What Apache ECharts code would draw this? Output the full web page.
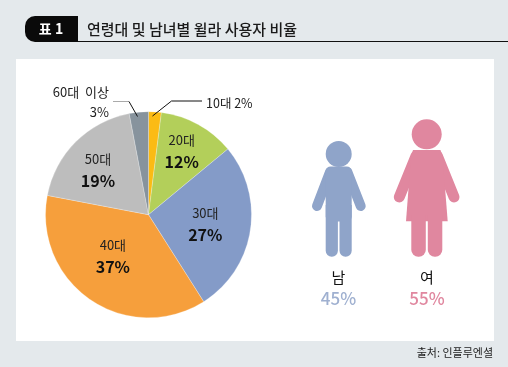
<!DOCTYPE html>
<html><head><meta charset="utf-8">
<style>html,body{margin:0;padding:0;background:#e4e9ec}#c{width:508px;height:367px}</style>
<script src="https://cdn.jsdelivr.net/npm/echarts@6/dist/echarts.min.js"></script>
</head><body><div id="c"></div>
<script>
const categories = ['10대','20대','30대','40대','50대','60대 이상'];
const shares = [2,12,27,37,19,3];
const genders = ['남','여'];
const genderShares = [45,55];
const titleBadge = '표 1';
const titleText = '연령대 및 남녀별 윌라 사용자 비율';
const sourceText = '출처: 인플루엔셜';

const colors = ['#fbbb14','#b3cf5a','#849bc8','#f69f3c','#bdbdbd','#87939d'];
const offsets = [null,[7,-16],[3,1],[-5,-4],[-12,-6],null];
const KO = '"Noto Sans CJK KR",sans-serif';
const MAN = '#8fa4c9', WOMAN = '#e0879f';

const chart = echarts.init(document.getElementById('c'), null, {renderer:'canvas'});
const txt = (x,y,text,size,fill,align,weight) => ({type:'text',x,y,silent:true,zlevel:2,
  style:{text,fontSize:size,fill,align:align||'center',verticalAlign:'middle',fontFamily:KO,fontWeight:weight||'normal'}});
const line = (pts,stroke) => ({type:'polyline',zlevel:2,silent:true,shape:{points:pts},style:{stroke,lineWidth:1,fill:null}});
const limb = (x1,y1,x2,y2,w,c) => ({type:'line',silent:true,zlevel:2,shape:{x1,y1,x2,y2},style:{stroke:c,lineWidth:w,lineCap:'round'}});
const rect = (x,y,width,height,r,c,zl) => ({type:'rect',silent:true,zlevel:zl===undefined?2:zl,shape:{x,y,width,height,r},style:{fill:c}});
const circle = (cx,cy,r,c) => ({type:'circle',silent:true,zlevel:2,shape:{cx,cy,r},style:{fill:c}});

const graphics = [
  rect(16,59,478,282,0,'#ffffff',0),
  rect(25,16,53,26,[10,0,0,10],'#0a0a0a',0),
  {type:'line',silent:true,zlevel:0,shape:{x1:78,y1:41.5,x2:508,y2:41.5},style:{stroke:'#111',lineWidth:1}},
  txt(51,29,titleBadge,14,'#fff','center','bold'),
  txt(87,29,titleText,15,'#1a1a1a','left',500),
  txt(493,353,sourceText,11,'#222','right'),
  // leader lines and outer labels
  line([[152.5,116],[171.5,101],[202,101]],'#111'),
  line([[113,101.5],[129,101.5]],'#aaa'),
  line([[129,101.5],[137.5,116.5]],'#111'),
  txt(206,103,categories[0]+' '+shares[0]+'%',12.5,'#222','left'),
  txt(109,92,categories[5].replace(' ','  '),13,'#222','right'),
  txt(109,112,shares[5]+'%',13,'#222','right'),
  // man
  circle(338.7,154,13,MAN),
  limb(330,172,317,206,10,MAN), limb(347.4,172,360.7,206,10,MAN),
  rect(325.7,166.5,26,55,5,MAN),
  rect(325.7,205,12.2,51.7,[0,0,6,6],MAN),
  rect(339.5,205,12.2,51.7,[0,0,6,6],MAN),
  // woman
  circle(426.7,134.3,15,WOMAN),
  limb(416,156,399.3,197,11,WOMAN), limb(437.4,156,454,197,11,WOMAN),
  {type:'polygon',silent:true,zlevel:2,shape:{points:[[413,150],[440.5,150],[442.5,156],[447.7,221.3],[406,221.3],[411,156]]},style:{fill:WOMAN}},
  rect(411.3,215,14.5,41.7,[0,0,7,7],WOMAN),
  rect(427.8,215,14.5,41.7,[0,0,7,7],WOMAN),
  // gender labels
  txt(338.5,277,genders[0],15,'#111'),
  txt(338.5,299,genderShares[0]+'%',17,'#9fb0d0','center',500),
  txt(427,277,genders[1],15,'#111'),
  txt(427,299,genderShares[1]+'%',17,WOMAN,'center',500)
];

chart.setOption({
  animation:false,
  backgroundColor:'#e4e9ec',
  graphic:{elements:graphics},
  series:[{
    type:'pie',
    center:[148.5,214.7],
    radius:[0,103],
    startAngle:90,
    clockwise:true,
    silent:true,
    zlevel:1,
    labelLine:{show:false},
    itemStyle:{borderColor:'rgba(255,255,255,0.5)',borderWidth:0.5},
    data:categories.map((name,i)=>({
      name,value:shares[i],itemStyle:{color:colors[i]},
      label: offsets[i] ? {show:true,position:'inside',offset:offsets[i],
        formatter:'{a|'+name+'}\n{b|'+shares[i]+'%}',
        rich:{a:{fontSize:13,color:'#222',fontFamily:KO,lineHeight:22,align:'center'},
              b:{fontSize:16,fontWeight:'bold',color:'#111',fontFamily:KO,lineHeight:22,align:'center'}}}
      : {show:false}
    }))
  }]
});
</script></body></html>
